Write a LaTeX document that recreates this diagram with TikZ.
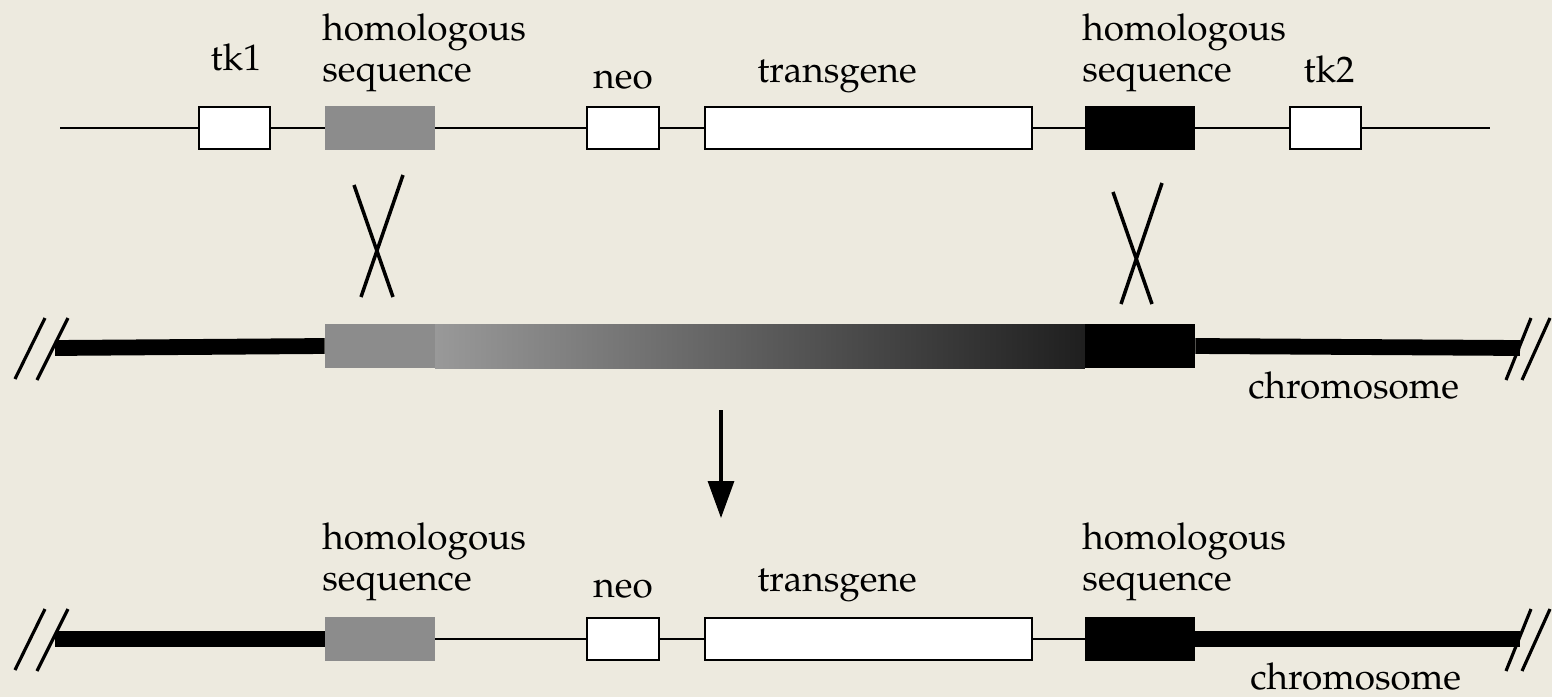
\documentclass[tikz,border=0pt]{standalone}
\usepackage[T1]{fontenc}
\usepackage{mathpazo}
\usepackage{tikz}
\usetikzlibrary{arrows.meta,positioning}
\definecolor{paper}{RGB}{237,234,223}
\definecolor{homgrey}{RGB}{140,140,140}

\tikzset{
  gene/.style={draw, line width=1.4pt, fill=white, inner sep=0pt, minimum height=0.84cm},
  homol/.style={inner sep=0pt, minimum width=2.2cm, minimum height=0.88cm},
  dna/.style={line width=1.4pt},
  chrom/.style={line width=9pt},
  lbl/.style={font=\fontsize{21}{23.5}\selectfont, inner sep=0pt},
  seqlbl/.style={lbl, align=left, anchor=north west},
  brk/.style={line width=1.8pt},
  cross/.style={line width=2pt}
}

\begin{document}
\begin{tikzpicture}[x=0.02cm, y=-0.02cm]
  % Backdrop
  \fill[paper] (0,0) rectangle (1552,697);
  \useasboundingbox (0,0) rectangle (1552,697);

  % Targeting vector
  \coordinate (vecL) at (60,128);
  \coordinate (vecR) at (1490,128);
  \node[gene, minimum width=1.42cm] (tkA) at (234.5,128) {};
  \node[homol, fill=homgrey] (homA) at (380,128) {};
  \node[gene, minimum width=1.44cm] (neoA) at (623,128) {};
  \node[gene, minimum width=6.54cm] (tgA) at (868.5,128) {};
  \node[homol, fill=black] (homB) at (1140,128) {};
  \node[gene, minimum width=1.42cm] (tkB) at (1325.5,128) {};
  \draw[dna] (vecL) -- (tkA.west) (tkA.east) -- (homA.west)
    (homA.east) -- (neoA.west) (neoA.east) -- (tgA.west)
    (tgA.east) -- (homB.west) (homB.east) -- (tkB.west) (tkB.east) -- (vecR);

  \node[lbl, anchor=base] (tkAl) at (236,70) {tk1};
  \node[seqlbl] (homAl) at (322,13) {homologous\\sequence};
  \node[lbl, anchor=base] (neoAl) at (623,88) {neo};
  \node[lbl, anchor=base] (tgAl) at (837,82) {transgene};
  \node[seqlbl] (homBl) at (1082,13) {homologous\\sequence};
  \node[lbl, anchor=base] (tkBl) at (1329,82) {tk2};

  % Crossing-over marks
  \draw[cross] (354,185) -- (393,297) (403,175) -- (361,297);
  \draw[cross] (1113,192) -- (1152,304) (1162,183) -- (1121,304);

  % Chromosome before targeting
  \coordinate (chrL) at (55,348);
  \coordinate (chrR) at (1520,348);
  \node[homol, fill=homgrey] (homC) at (380,346) {};
  \node[inner sep=0pt, minimum width=13cm, minimum height=0.88cm,
    left color=black!40, right color=black!88] (midC) at (760,346) {};
  \node[homol, fill=black] (homD) at (1140,346) {};
  \draw[chrom] (chrL) -- (homC.west);
  \draw[chrom] (homD.east) -- (chrR);
  \draw[brk] (15,379) -- (45,318) (37,380) -- (68,318);
  \draw[brk] (1506,380) -- (1531,318) (1522,380) -- (1550,318);
  \node[lbl, anchor=base west] (chrCl) at (1248,398) {chromosome};

  % Recombination arrow
  \coordinate (arrS) at (721,410);
  \coordinate (arrE) at (721,518);
  \draw[line width=1.8pt, -{Triangle[length=0.74cm, width=0.52cm]}] (arrS) -- (arrE);

  % Targeted chromosome
  \coordinate (tgtL) at (55,639);
  \coordinate (tgtR) at (1520,639);
  \node[homol, fill=homgrey] (homE) at (380,639) {};
  \node[gene, minimum width=1.44cm] (neoE) at (623,639) {};
  \node[gene, minimum width=6.54cm] (tgE) at (868.5,639) {};
  \node[homol, fill=black] (homF) at (1140,639) {};
  \draw[chrom] (tgtL) -- (homE.west);
  \draw[dna] (homE.east) -- (neoE.west) (neoE.east) -- (tgE.west) (tgE.east) -- (homF.west);
  \draw[chrom] (homF.east) -- (tgtR);
  \draw[brk] (15,670) -- (45,609) (37,671) -- (68,609);
  \draw[brk] (1506,671) -- (1531,609) (1522,671) -- (1550,609);

  \node[seqlbl] (homEl) at (322,522) {homologous\\sequence};
  \node[lbl, anchor=base] (neoEl) at (623,597) {neo};
  \node[lbl, anchor=base] (tgEl) at (837,591) {transgene};
  \node[seqlbl] (homFl) at (1082,522) {homologous\\sequence};
  \node[lbl, anchor=base west] (chrEl) at (1250,689) {chromosome};
\end{tikzpicture}
\end{document}
